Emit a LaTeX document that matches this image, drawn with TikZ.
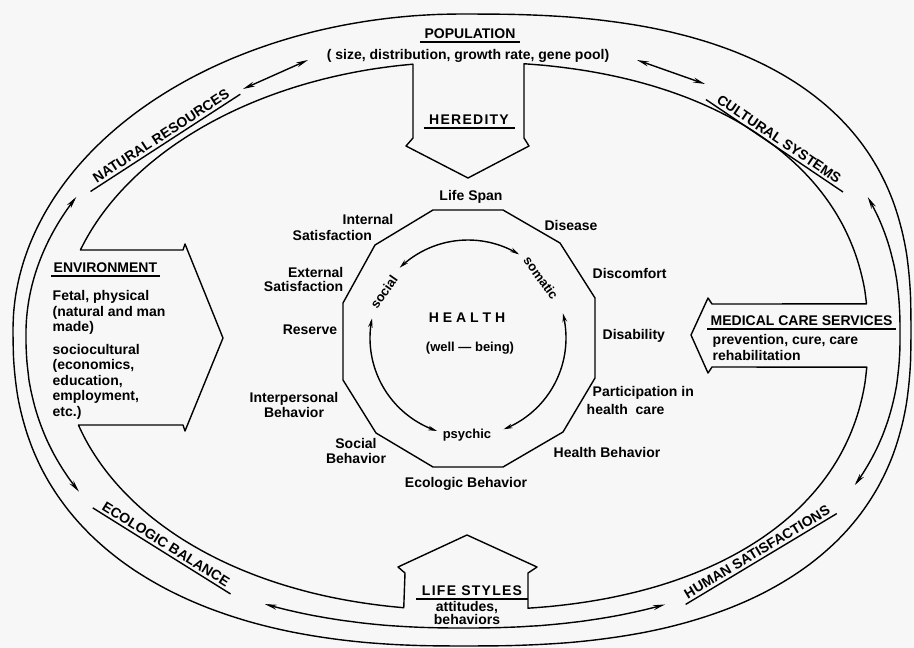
\documentclass[tikz,border=0pt]{standalone}
\usepackage{fontspec}
\setmainfont{Liberation Sans}
\usetikzlibrary{arrows.meta}
% ring geometry (outer band, middle arrow band, inner band)
\def\ocx{462}\def\ocy{330}\def\orx{449}\def\ory{316}
\def\mcx{463}\def\mcy{334}\def\mrx{437}\def\mry{294}
\def\icx{464}\def\icy{336}\def\irx{404}\def\iry{274}
\begin{document}
\begin{tikzpicture}[x=1pt,y=-1pt,line width=1.4pt,line join=round,
  declare function={sqx(\t,\p)=sign(cos(\t))*(abs(cos(\t))+0.0001)^\p;
                    sqy(\t,\p)=sign(sin(\t))*(abs(sin(\t))+0.0001)^\p;},
  txt/.style={font=\bfseries\fontsize{14}{15.5}\selectfont,inner sep=0pt},
  small/.style={font=\bfseries\fontsize{13}{14}\selectfont,inner sep=0pt},
  ul/.style={txt,inner xsep=#1,inner ysep=2.5pt},
  ul/.default=4pt,
  wide/.style={font=\bfseries\fontsize{14}{15.5}\selectfont\addfontfeature{LetterSpace=9}},
  twoway/.style={{Stealth[length=12pt,width=5pt]}-{Stealth[length=12pt,width=5pt]}},
  ctwo/.style={{Stealth[length=9pt,width=4.5pt]}-{Stealth[length=9pt,width=4.5pt]}},
  seg/.style={smooth,samples=30,variable=\t}]
\fill[black!3] (0,0) rectangle (914,648);
\useasboundingbox (0,0) rectangle (914,648);

% outer band (rounded-square ellipse, one exponent per quadrant)
\draw plot[seg,domain=0:90] ({\ocx+\orx*sqx(\t,0.8)},{\ocy+\ory*sqy(\t,0.8)})
  -- plot[seg,domain=90:180] ({\ocx+\orx*sqx(\t,0.85)},{\ocy+\ory*sqy(\t,0.85)})
  -- plot[seg,domain=180:270] ({\ocx+\orx*sqx(\t,1)},{\ocy+\ory*sqy(\t,1)})
  -- plot[seg,domain=270:360] ({\ocx+\orx*sqx(\t,0.78)},{\ocy+\ory*sqy(\t,0.78)}) -- cycle;

% inner band with the four inflow arrows
\draw plot[seg,domain=198.29:262.75] ({\icx+\irx*sqx(\t,1)},{\icy+\iry*sqy(\t,1)})
  -- (413,138) -- (406,146) -- (468,178) -- (529,146) -- (524,138)
  -- plot[seg,domain=276.9:354.72] ({\icx+\irx*sqx(\t,0.9)},{\icy+\iry*sqy(\t,0.9)})
  -- (712,304) -- (708,298) -- (691,335) -- (708,373) -- (712,367)
  -- plot[seg,domain=4.82:82.92] ({\icx+\irx*sqx(\t,0.88)},{\icy+\iry*sqy(\t,0.88)})
  -- (528,573) -- (537,567) -- (467,535) -- (398,567) -- (405,573)
  -- plot[seg,domain=97.59:162.17] ({\icx+\irx*sqx(\t,0.95)},{\icy+\iry*sqy(\t,0.95)})
  -- (183,425) -- (185,431) -- (223,338) -- (185,244) -- (183,250) -- cycle;

% middle band: arrows between the outer factors
\draw[twoway] plot[seg,domain=150:180] ({\mcx+\mrx*sqx(\t,0.9)},{\mcy+\mry*sqy(\t,0.9)})
  -- plot[seg,domain=180:207.77] ({\mcx+\mrx*sqx(\t,1)},{\mcy+\mry*sqy(\t,1)});
\draw[twoway] plot[seg,domain=336:360] ({\mcx+\mrx*sqx(\t,0.85)},{\mcy+\mry*sqy(\t,0.85)})
  -- plot[seg,domain=0:28] ({\mcx+\mrx*sqx(\t,0.88)},{\mcy+\mry*sqy(\t,0.88)});
\draw[twoway] plot[seg,domain=65.41:90] ({\mcx+\mrx*sqx(\t,0.88)},{\mcy+\mry*sqy(\t,0.88)})
  -- plot[seg,domain=90:114.51] ({\mcx+\mrx*sqx(\t,0.9)},{\mcy+\mry*sqy(\t,0.9)});
\coordinate (nrA) at (243,89);
\coordinate (popA) at (308,60);
\coordinate (popB) at (637,60);
\coordinate (csA) at (705,84);
\draw[twoway] (nrA) -- (popA);
\draw[twoway] (popB) -- (csA);

% labels on the ring
\node[ul=9pt,rotate=33] (natres) at (161,136) {NATURAL RESOURCES};
\draw (natres.south west) -- (natres.south east);
\node[ul=9pt,rotate=-34] (cultsys) at (779,139) {CULTURAL SYSTEMS};
\draw (cultsys.south west) -- (cultsys.south east);
\node[ul=7pt,rotate=-32] (ecobal) at (166,544) {ECOLOGIC BALANCE};
\draw (ecobal.south west) -- (ecobal.south east);
\node[ul=4pt,rotate=31] (humsat) at (757,552) {HUMAN SATISFACTIONS};
\draw (humsat.south west) -- (humsat.south east);

% population / heredity
\node[ul=4pt] (pop) at (470,34) {POPULATION};
\draw (pop.south west) -- (pop.south east);
\node[txt] (popsub) at (468,56) {( size, distribution, growth rate, gene pool)};
\node[ul=5pt,wide] (her) at (469,120) {HEREDITY};
\draw (her.south west) -- (her.south east);

% environment
\node[ul=2pt,anchor=west] (env) at (51,268) {ENVIRONMENT};
\draw (env.south west) -- (env.south east);
\node[txt,anchor=north west,align=left] (envtext) at (52,290)
  {Fetal, physical\\(natural and man\\made)\\[7pt]sociocultural\\(economics,\\education,\\employment,\\etc.)};

% medical care services
\node[ul=3pt,anchor=west] (mcs) at (707,321) {MEDICAL CARE SERVICES};
\draw (mcs.south west) -- (mcs.south east);
\node[txt,anchor=north west,align=left] (mcstext) at (712,334) {prevention, cure, care\\rehabilitation};

% life styles
\node[ul=5pt,wide] (ls) at (472,591) {LIFE STYLES};
\draw (ls.south west) -- (ls.south east);
\node[txt,align=center,font=\bfseries\fontsize{14}{13}\selectfont] (lstext) at (467,613) {attitudes,\\behaviors};

% health polygon
\draw (433,210) -- (503,210) -- (560,243) -- (595,298) -- (595,378) -- (563,432)
  -- (503,467) -- (433,467) -- (376,433) -- (343,380) -- (343,303) -- (375,245) -- cycle;

% circle of somatic, psychic and social health
\draw[ctwo] plot[smooth,domain=225.8:301.4,samples=30,variable=\t] ({468+98*cos(\t)},{338+98*sin(\t)});
\draw[ctwo] plot[smooth,domain=-14.7:68.7,samples=30,variable=\t] ({468+98*cos(\t)},{338+98*sin(\t)});
\draw[ctwo] plot[smooth,domain=108.4:191.5,samples=30,variable=\t] ({468+98*cos(\t)},{338+98*sin(\t)});
\node[txt] (health) at (467,318) {H E A L T H};
\node[small] (wellbeing) at (470,348) {(well — being)};
\node[small] (psychic) at (467,435) {psychic};
\node[small,rotate=55] (social) at (384,292) {social};
\node[small,rotate=-54] (somatic) at (541,278) {somatic};

% health dimensions around the polygon
\node[txt] (lifespan) at (471,197) {Life Span};
\node[txt] (disease) at (571,225) {Disease};
\node[txt,anchor=west] (discomfort) at (592,273) {Discomfort};
\node[txt,anchor=west] (disability) at (602,336) {Disability};
\node[txt,anchor=north west,align=left,font=\bfseries\fontsize{14}{18}\selectfont] (particip) at (586,386)
  {\hspace*{6pt}Participation in\\health\ \ care};
\node[txt] (healthbeh) at (607,452) {Health Behavior};
\node[txt] (ecobeh) at (466,484) {Ecologic Behavior};
\node[txt,align=center] (socbeh) at (356,451) {Social\\Behavior};
\node[txt,align=center] (interbeh) at (294,405) {Interpersonal\\Behavior};
\node[txt] (reserve) at (310,330) {Reserve};
\node[txt,align=right,anchor=east,font=\bfseries\fontsize{14}{14}\selectfont] (extsat) at (344,279) {External\\Satisfaction};
\node[txt,align=left,anchor=north west] (intsat) at (292,214) {\hspace*{50pt}Internal\\Satisfaction};
\end{tikzpicture}
\end{document}
